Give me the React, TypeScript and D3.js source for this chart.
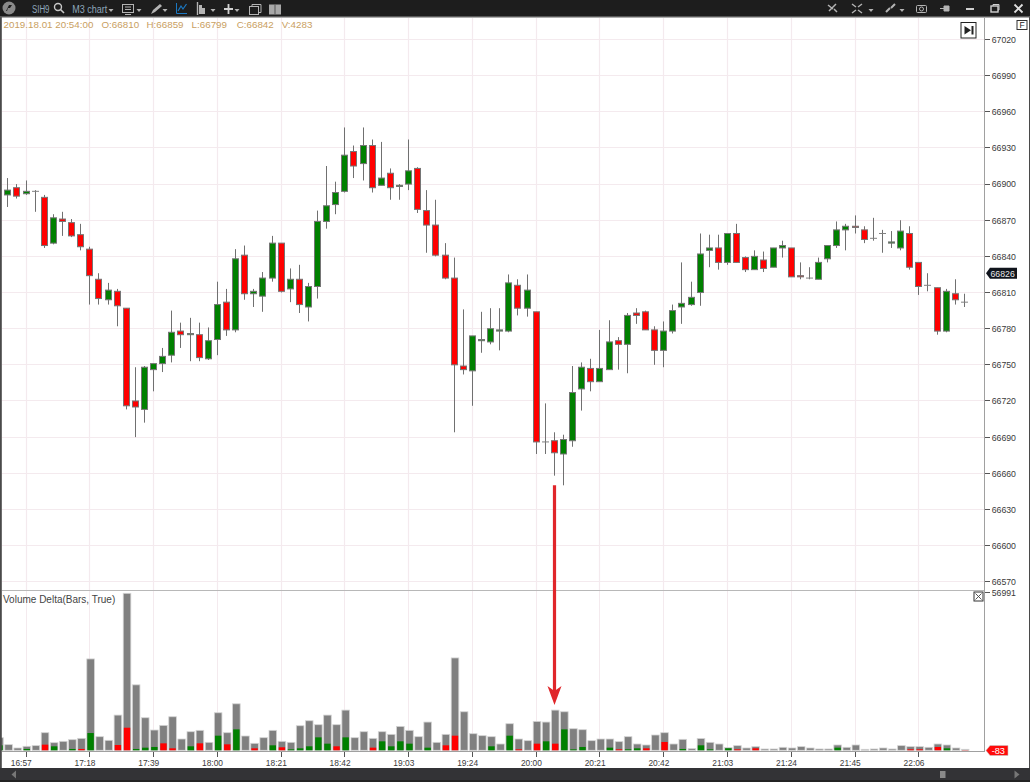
import React from "react";
import * as d3 from "d3";

const infoLine = [
  { t: "2019.18.01 20:54:00", x: 3.5 },
  { t: "O:66810", x: 101.5 },
  { t: "H:66859", x: 146.5 },
  { t: "L:66799", x: 191.6 },
  { t: "C:66842", x: 236.7 },
  { t: "V:4283", x: 281.7 },
];
const priceTicks = [67020, 66990, 66960, 66930, 66900, 66870, 66840, 66810, 66780, 66750, 66720, 66690, 66660, 66630, 66600, 66570];
const timeLabels = ["16:57", "17:18", "17:39", "18:00", "18:21", "18:42", "19:03", "19:24", "20:00", "20:21", "20:42", "21:03", "21:24", "21:45", "22:06"];
const lastPrice = 66826;
const lastDelta = -83;
const volumeMax = 56991;

const opens = [
  66891,66897,66892,66894,66889,66851,66871,66868,66858,66846,
  66821,66804,66811,66797,66720,66713,66746,66751,66758,66778,
  66775,66775,66755,66771,66802,66779,66841,66809,66807,66822,
  66851,66813,66821,66798,66815,66869,66883,66894,66927,66917,
  66932,66899,66909,66898,66900,66913,66878,66866,66841,66822,
  66749,66745,66770,66769,66778,66778,66816,66797,66794,66686,
  66687,66676,66687,66730,66747,66736,66746,66770,66767,66793,
  66794,66779,66762,66778,66798,66800,66810,66845,66847,66835,
  66859,66839,66829,66837,66831,66847,66847,66824,66822,66821,
  66838,66849,66862,66865,66862,66855,66859,66851,66847,66859,
  66835,66816,66814,66778,66809,66802,
];
const closes = [
  66895,66890,66894,66894,66849,66872,66869,66857,66848,66824,
  66805,66812,66799,66716,66715,66748,66751,66757,66777,66775,
  66776,66756,66770,66800,66779,66838,66809,66811,66822,66851,
  66811,66821,66800,66815,66869,66882,66893,66924,66915,66932,
  66897,66905,66897,66899,66911,66879,66866,66841,66822,66750,
  66746,66774,66771,66780,66779,66818,66797,66812,66686,66686,
  66677,66688,66727,66748,66736,66747,66769,66767,66791,66791,
  66779,66762,66778,66795,66801,66806,66842,66847,66835,66859,
  66835,66829,66840,66830,66847,66849,66823,66823,66822,66835,
  66849,66862,66865,66864,66854,66855,66859,66852,66861,66831,
  66815,66816,66778,66811,66804,66802,
];
const highs = [
  66905,66900,66903,66895,66891,66875,66877,66871,66867,66848,
  66826,66818,66813,66797,66748,66749,66751,66764,66795,66785,
  66789,66785,66781,66819,66813,66846,66849,66813,66827,66857,
  66851,66830,66833,66818,66878,66915,66902,66947,66932,66947,
  66937,66935,66913,66900,66937,66914,66895,66887,66851,66839,
  66796,66774,66794,66797,66797,66825,66821,66825,66794,66718,
  66694,66692,66749,66752,66755,66779,66787,66773,66793,66797,
  66795,66782,66786,66800,66835,66819,66859,66858,66858,66859,
  66867,66840,66845,66844,66847,66853,66847,66835,66831,66839,
  66849,66869,66867,66874,66865,66872,66862,66861,66870,66865,
  66835,66826,66814,66813,66821,66809,
];
const lows = [
  66881,66888,66891,66877,66847,66850,66857,66856,66845,66800,
  66800,66800,66782,66713,66690,66702,66728,66744,66752,66764,
  66753,66753,66754,66758,66774,66777,66804,66798,66794,66819,
  66810,66802,66793,66786,66805,66863,66875,66893,66905,66903,
  66893,66899,66887,66887,66895,66876,66843,66840,66821,66694,
  66742,66716,66760,66767,66762,66777,66791,66790,66676,66676,
  66658,66650,66682,66712,66728,66736,66746,66746,66743,66784,
  66779,66750,66748,66776,66784,66799,66799,66831,66829,66833,
  66835,66827,66829,66827,66831,66839,66823,66821,66821,66821,
  66835,66847,66845,66859,66851,66853,66843,66847,66845,66829,
  66808,66811,66775,66777,66800,66798,
];
// Volume and delta start one bar earlier than the candles: that bar is cut off by the left edge.
const volumes = [
  4580,
  2050,840,1450,1690,6390,2770,3260,3860,4340,33170,
  4940,3620,12780,56991,23760,11820,7360,9050,12180,4100,
  6750,7240,2890,13630,6390,16880,5190,2530,4580,7240,
  3260,2890,8920,10730,9290,12780,9290,14590,4580,6750,
  4340,6750,5790,8680,7240,4940,10250,2890,5790,33530,
  13990,6030,5310,4940,2290,9650,4100,3500,10490,10250,
  14590,13990,7840,7480,3500,4100,4100,3140,4940,2290,
  1930,5550,6390,2290,3980,600,4283,2890,2290,960,
  1690,840,1330,480,480,1090,840,1330,840,480,
  480,1930,1090,1930,360,480,840,480,1690,1330,
  1330,1090,2290,1930,840,360,
];
const deltas = [
  1810,
  0,0,480,0,-2050,1450,0,480,-480,6270,
  0,0,-1930,-8200,480,960,1210,-2530,-720,0,
  1450,-2530,0,5310,-2170,7600,0,-720,0,1810,
  -1090,360,720,1450,4700,2410,-1450,4700,0,0,
  -960,3260,1450,3260,2410,0,960,0,-1810,-5310,
  0,0,0,1450,0,5310,-360,0,-2410,3260,
  -2410,7600,360,1210,0,0,960,-360,360,720,
  -720,0,-3020,0,480,0,1810,360,0,720,
  -360,0,-720,0,0,0,0,0,0,0,
  0,960,0,0,0,0,0,0,0,-360,
  -360,0,-1210,720,0,-83,
];

const W = 1030, H = 782;
const sans = "'Liberation Sans', Arial, sans-serif";
const GRID = "#f4eaee";
const AXIS = "#a0a0a0";
const ICON = "#b4b4b4";

const xIdx = d3.scaleLinear().domain([0, 105]).range([7.8, 964.4]);
const yPrice = d3.scaleLinear().domain([66570, 67020]).range([581.7, 39.5]);
const yVol = d3.scaleLinear().domain([0, volumeMax]).range([750.3, 593.3]);
const crisp = (v: number) => Math.floor(v) + 0.5;
const tickIndex = (k: number) => 2 + 7 * k;
const arrowPrice = 66650;

function Caret({ x }: { x: number }) {
  return <path d={`M${x - 2.5} 9L${x + 2.5} 9L${x} 12Z`} fill={ICON} />;
}

function Toolbar() {
  return (
    <g>
      <rect x={0} y={0} width={W} height={17} fill="#1d1d1d" />
      <rect x={0} y={16} width={W} height={1.5} fill="#5a5a5a" />
      <circle cx={9} cy={8} r={6.5} fill="#8a8a8a" />
      <path d="M6 11L9 5L12 5L10 8L8 8L7 11Z" fill="#1d1d1d" />
      <text x={32} y={12.5} fontSize={10} fontFamily={sans} fill="#8ea6bb" textLength={17.5} lengthAdjust="spacingAndGlyphs">SIH9</text>
      <circle cx={58} cy={7} r={3.5} fill="none" stroke="#c8c8c8" strokeWidth={1.4} />
      <line x1={60.5} y1={9.5} x2={64} y2={13} stroke="#c8c8c8" strokeWidth={1.6} />
      <text x={72.3} y={12.5} fontSize={10} fontFamily={sans} fill="#8ea6bb" textLength={35} lengthAdjust="spacingAndGlyphs">M3 chart</text>
      <Caret x={111} />
      <rect x={122.5} y={4.5} width={11} height={8} fill="none" stroke={ICON} />
      <line x1={125} y1={7} x2={131} y2={7} stroke={ICON} />
      <line x1={125} y1={9.5} x2={131} y2={9.5} stroke={ICON} />
      <line x1={125} y1={14.5} x2={131} y2={14.5} stroke={ICON} />
      <Caret x={139} />
      <path d="M151 14L153 10L160 4L162 6L155 12Z" fill={ICON} />
      <Caret x={165} />
      <path d="M176.5 3V13.5H187" fill="none" stroke="#1b78c2" strokeWidth={1} />
      <path d="M178 11L181 6L183 9L186.5 4" fill="none" stroke="#1b78c2" strokeWidth={1.2} />
      <path d="M197.5 2V15" stroke={ICON} strokeWidth={1.4} />
      <rect x={199} y={5} width={3} height={9} fill={ICON} />
      <rect x={202} y={8} width={3} height={6} fill={ICON} />
      <Caret x={213} />
      <path d="M228.5 4V14M224 9H233" stroke="#d0d0d0" strokeWidth={1.8} />
      <Caret x={237} />
      <rect x={249.5} y={6.5} width={9} height={8} fill="none" stroke={ICON} />
      <path d="M252 6.5V4.5H261V12.5H258.5" fill="none" stroke={ICON} />
      <rect x={269} y={4.5} width={12} height={10} fill="#a8a8a8" />
      <path d="M275 4.5V14.5" stroke="#555" />
      <path d="M828 5L833 9M836 4L832 8M829 11L832 8M834 9L837 12" stroke={ICON} strokeWidth={1.5} fill="none" />
      <path d="M852 4L856 7M862 4L858 7M852 13L856 10M862 13L858 10" stroke={ICON} strokeWidth={1.4} fill="none" />
      <Caret x={871} />
      <path d="M886 12L890 8M891 8L895 4" stroke={ICON} strokeWidth={2} fill="none" />
      <Caret x={902} />
      <rect x={916.5} y={5.5} width={10} height={7} rx={1} fill="none" stroke={ICON} />
      <circle cx={921.5} cy={9} r={2} fill="none" stroke={ICON} />
      <path d="M940 8.5H944M944 6H949V11H944Z" fill={ICON} stroke={ICON} />
      <rect x={966} y={8} width={8} height={2} fill="#d0d0d0" />
      <rect x={991} y={6} width={7} height={6} fill="none" stroke="#d0d0d0" strokeWidth={1.4} />
      <path d="M993 6V4.5H999V10H998" fill="none" stroke="#d0d0d0" />
      <path d="M1014.5 4.5L1022.5 12.5M1022.5 4.5L1014.5 12.5" stroke="#e0e0e0" strokeWidth={1.8} />
    </g>
  );
}

function Grid() {
  return (
    <g>
      {priceTicks.map((p) => (
        <line key={p} x1={2} x2={984} y1={crisp(yPrice(p))} y2={crisp(yPrice(p))} stroke={GRID} strokeWidth={1.2} />
      ))}
      {timeLabels.map((t, k) => (
        <g key={t}>
          <line x1={crisp(xIdx(tickIndex(k)))} x2={crisp(xIdx(tickIndex(k)))} y1={18} y2={590} stroke={GRID} strokeWidth={1.2} />
          <line x1={crisp(xIdx(tickIndex(k)))} x2={crisp(xIdx(tickIndex(k)))} y1={590} y2={751} stroke={GRID} strokeWidth={1} />
        </g>
      ))}
    </g>
  );
}

function Candles() {
  return (
    <g>
      {opens.map((open, i) => {
        const close = closes[i];
        const cx = crisp(xIdx(i));
        const top = yPrice(Math.max(open, close));
        const bottom = yPrice(Math.min(open, close));
        const flat = open === close;
        return (
          <g key={i}>
            <line x1={cx} x2={cx} y1={yPrice(highs[i])} y2={yPrice(lows[i])} stroke="#707070" strokeWidth={1} />
            {flat ? (
              <line x1={cx - 3.5} x2={cx + 3.5} y1={top} y2={top} stroke="#808080" strokeWidth={1} />
            ) : (
              <rect
                x={cx - 3}
                y={top}
                width={6}
                height={Math.max(1, bottom - top)}
                fill={close > open ? "#008000" : "#ff0000"}
                stroke="#757575"
                strokeWidth={1}
              />
            )}
          </g>
        );
      })}
    </g>
  );
}

function VolumeBars() {
  return (
    <g>
      {volumes.map((v, j) => {
        const i = j - 1;
        const cx = xIdx(i) + 0.8;
        const d = deltas[j];
        return (
          <g key={j}>
            <rect x={cx - 3.8} y={yVol(v)} width={7.6} height={yVol(0) - yVol(v)} fill="#808080" stroke="#d4d4d4" strokeWidth={0.8} />
            {d !== 0 && (
              <rect
                x={cx - 3.2}
                y={yVol(Math.abs(d))}
                width={6.4}
                height={yVol(0) - yVol(Math.abs(d))}
                fill={d > 0 ? "#008000" : "#ff0000"}
              />
            )}
          </g>
        );
      })}
    </g>
  );
}

function Axes() {
  return (
    <g fontFamily={sans} fontSize={9.8} fill="#3a3a3a">
      <line x1={2} x2={984} y1={590.5} y2={590.5} stroke="#b8b8b8" strokeWidth={1.2} />
      <line x1={2} x2={984.5} y1={751.5} y2={751.5} stroke={AXIS} />
      <line x1={984.5} x2={984.5} y1={18} y2={752} stroke={AXIS} />
      {priceTicks.map((p) => (
        <g key={p}>
          <line x1={985} x2={990} y1={crisp(yPrice(p))} y2={crisp(yPrice(p))} stroke="#555" />
          <text x={991.7} y={yPrice(p) + 3.4} textLength={24.3} lengthAdjust="spacingAndGlyphs">{p}</text>
        </g>
      ))}
      <line x1={985} x2={990} y1={592.5} y2={592.5} stroke="#555" />
      <text x={991.7} y={596.3} textLength={24.3} lengthAdjust="spacingAndGlyphs">{volumeMax}</text>
      {timeLabels.map((t, k) => (
        <g key={t}>
          <line x1={crisp(xIdx(tickIndex(k)))} x2={crisp(xIdx(tickIndex(k)))} y1={752} y2={757} stroke="#555" />
          <text
            x={xIdx(tickIndex(k)) - 15.3}
            y={766}
            textLength={21}
            lengthAdjust="spacingAndGlyphs"
          >
            {t}
          </text>
        </g>
      ))}
      <text x={3} y={602.5} fontSize={10} fill="#444">Volume Delta(Bars, True)</text>
      {infoLine.map((d) => (
        <text key={d.t} x={d.x} y={27.7} fontSize={9.8} fill="#c9a05f">{d.t}</text>
      ))}
    </g>
  );
}

function Tags() {
  const py = yPrice(lastPrice);
  return (
    <g fontFamily={sans}>
      <path d={`M986 ${py}L990 ${py - 5.5}H1017V${py + 5.5}H990Z`} fill="#10141c" />
      <text x={990.5} y={py + 3.5} fontSize={9.8} fill="#e8e8e8" textLength={24.3} lengthAdjust="spacingAndGlyphs">{lastPrice}</text>
      <path d="M986 750.5L990 745.5H1008V755.5H990Z" fill="#ff0a0a" stroke="#c8c8c8" strokeWidth={0.6} />
      <text x={991.7} y={754} fontSize={9.8} fill="#ffffff" textLength={13.3} lengthAdjust="spacingAndGlyphs">{lastDelta}</text>
      <rect x={961} y={22.5} width={15} height={15.5} fill="#fff" stroke="#222" />
      <path d="M964.5 26L971 30.2L964.5 34.5Z" fill="#222" />
      <rect x={971.5} y={26} width={2} height={8.5} fill="#222" />
      <rect x={1017} y={20.5} width={10} height={9} fill="#fff" stroke="#333" />
      <text x={1019.5} y={28} fontSize={8.5} fill="#222">F</text>
      <rect x={974} y={592} width={9} height={9} fill="#fff" stroke="#333" />
      <path d="M975.5 593.5L981.5 599.5M981.5 593.5L975.5 599.5" stroke="#444" strokeWidth={0.9} />
    </g>
  );
}

function Arrow() {
  const x = crisp(xIdx(60));
  const top = yPrice(arrowPrice);
  return (
    <g>
      <line x1={x} x2={x} y1={top} y2={693} stroke="#e0262a" strokeWidth={3.2} />
      <path d={`M${x} 705L${x - 7} 686L${x} 691L${x + 7} 686Z`} fill="#e0262a" />
    </g>
  );
}

function Frame() {
  return (
    <g>
      <rect x={0} y={17} width={1.8} height={H - 17} fill="#4a4a4a" />
      <rect x={1029} y={17} width={1} height={H - 17} fill="#4a4a4a" />
      <rect x={0} y={768} width={W} height={14} fill="#333336" />
      <rect x={0} y={780} width={W} height={2} fill="#232323" />
      <path d="M16 770.5L11.5 774.5L16 778.5Z" fill="#777" />
      <rect x={940} y={771} width={5.5} height={7} fill="#8a8a8a" />
      <path d="M1014.5 770.5L1019.5 774.5L1014.5 778.5Z" fill="#777" />
    </g>
  );
}

export default function App() {
  return (
    <svg
      width={W}
      height={H}
      viewBox={`0 0 ${W} ${H}`}
      style={{ position: "absolute", left: 0, top: 0, display: "block", background: "#fff" }}
    >
      <Grid />
      <Candles />
      <VolumeBars />
      <Axes />
      <Arrow />
      <Tags />
      <Frame />
      <Toolbar />
    </svg>
  );
}
